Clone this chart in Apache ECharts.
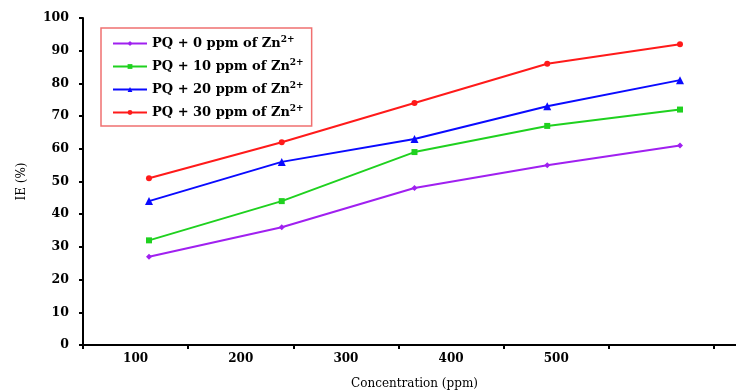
<!DOCTYPE html>
<html><head><meta charset="utf-8">
<script src="https://cdn.jsdelivr.net/npm/echarts@6/dist/echarts.min.js"></script>
<style>html,body{margin:0;padding:0;background:#fff}#c{width:736px;height:390px}</style>
</head><body><div id="c"></div>
<script>
const categories = [100, 200, 300, 400, 500];
const tickLabels = ['100', '200', '300', '400', '500', ''];
const seriesNames = ['PQ + 0 ppm of Zn', 'PQ + 10 ppm of Zn', 'PQ + 20 ppm of Zn', 'PQ + 30 ppm of Zn'];
const zn0 = [27, 36, 48, 55, 61];
const zn10 = [32, 44, 59, 67, 72];
const zn20 = [44, 56, 63, 73, 81];
const zn30 = [51, 62, 74, 86, 92];

const colors = ['#a020f0', '#1fd11f', '#0a0aff', '#ff1a1a'];
const symbols = ['diamond', 'rect', 'triangle', 'circle'];
const values = [zn0, zn10, zn20, zn30];
const serif = 'DejaVu Serif';

const chart = echarts.init(document.getElementById('c'));
chart.setOption({
  animation: false,
  backgroundColor: '#fff',
  grid: [
    {left: 83, right: 0, top: 18, bottom: 45, outerBoundsMode: 'none', containLabel: false},
    {left: 83, right: 22, top: 18, bottom: 45, outerBoundsMode: 'none', containLabel: false}
  ],
  xAxis: [
    {type: 'value', gridIndex: 0, min: 50.3, max: 542.2,
     axisLine: {show: true, onZero: false, lineStyle: {color: '#000', width: 2}},
     axisTick: {show: false}, axisLabel: {show: false}, splitLine: {show: false},
     name: 'Concentration (ppm)', nameLocation: 'middle', nameGap: 33,
     nameTextStyle: {fontFamily: serif, fontSize: 12, color: '#000', padding: [0, 0, 0, 10]}},
    {type: 'category', gridIndex: 1, data: tickLabels, boundaryGap: true,
     axisLine: {show: false}, axisTick: {show: true, length: 4, interval: 0, lineStyle: {color: '#000', width: 2}},
     axisLabel: {fontFamily: serif, fontWeight: 'bold', fontSize: 12, color: '#000', margin: 8, interval: 0},
     splitLine: {show: false}}
  ],
  yAxis: [
    {type: 'value', gridIndex: 0, min: 0, max: 100, interval: 10,
     axisLine: {show: true, lineStyle: {color: '#000', width: 2}},
     axisTick: {show: true, length: 4, lineStyle: {color: '#000', width: 2}},
     axisLabel: {fontFamily: serif, fontWeight: 'bold', fontSize: 12.5, color: '#000', margin: 14},
     splitLine: {show: false},
     name: 'IE (%)', nameLocation: 'middle', nameGap: 55, nameRotate: 90,
     nameTextStyle: {fontFamily: serif, fontSize: 12, color: '#000'}},
    {type: 'value', gridIndex: 1, min: 0, max: 100, show: false}
  ],
  legend: {
    orient: 'vertical', left: 101, top: 28,
    borderColor: '#f07070', borderWidth: 1.5, padding: [7, 8, 7, 11],
    itemWidth: 34, itemHeight: 6, itemGap: 8,
    data: seriesNames,
    formatter: n => n + '{s|2+}',
    textStyle: {fontFamily: serif, fontSize: 13, fontWeight: 'bold', color: '#000',
      rich: {s: {fontFamily: serif, fontSize: 9, fontWeight: 'bold', verticalAlign: 'top', padding: [0, 0, 8, 0], color: '#000'}}}
  },
  series: seriesNames.map((name, i) => ({
    name, type: 'line', xAxisIndex: 0, yAxisIndex: 0,
    data: categories.map((c, j) => [c, values[i][j]]),
    symbol: symbols[i], symbolSize: i === 2 ? 8 : 6,
    lineStyle: {color: colors[i], width: 2},
    itemStyle: {color: colors[i]}
  }))
});
</script></body></html>
